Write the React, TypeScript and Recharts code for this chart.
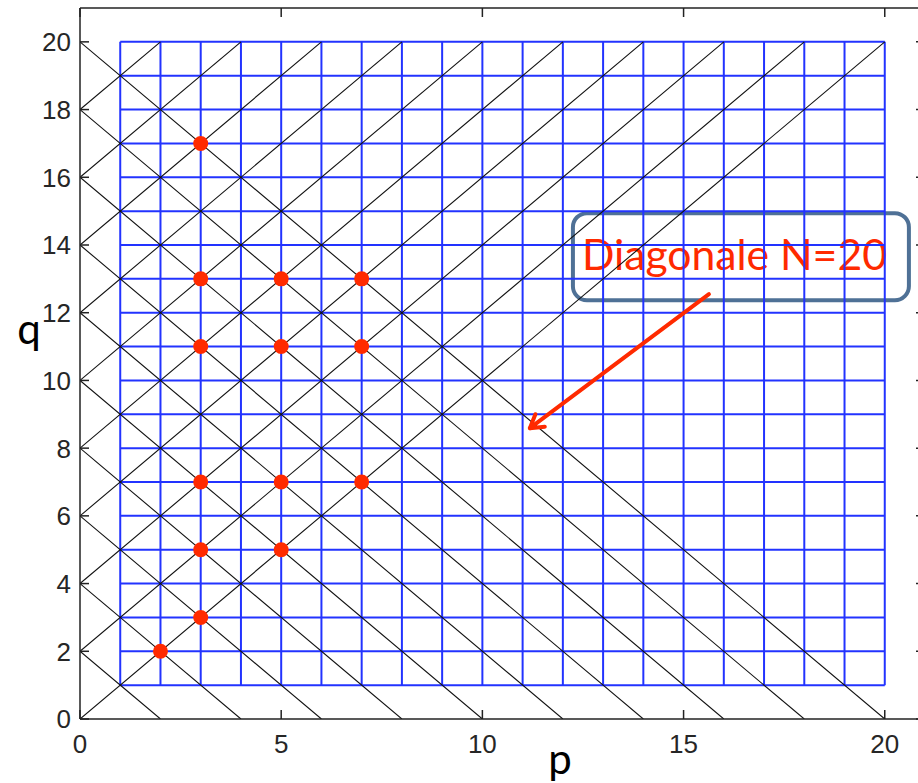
import { ComposedChart, Line, Scatter, XAxis, YAxis, ReferenceArea, ReferenceLine } from "recharts"

// blue lattice, diagonals p+q=N and q-p=k, prime pairs (p, q)
const gridSteps = [1, 2, 3, 4, 5, 6, 7, 8, 9, 10, 11, 12, 13, 14, 15, 16, 17, 18, 19, 20]
const sumDiagonals = [2, 4, 6, 8, 10, 12, 14, 16, 18, 20]
const diffDiagonals = [0, 2, 4, 6, 8, 10, 12, 14, 16, 18]
const pairP = [2, 3, 3, 5, 3, 5, 7, 3, 5, 7, 3, 5, 7, 3]
const pairQ = [2, 3, 5, 5, 7, 7, 7, 11, 11, 11, 13, 13, 13, 17]
const xTicks = [0, 5, 10, 15, 20]
const yTicks = [0, 2, 4, 6, 8, 10, 12, 14, 16, 18, 20]
const axisMax = 21

const gMin = gridSteps[0]
const gMax = gridSteps[gridSteps.length - 1]

const blueLines = [
  ...gridSteps.map((v) => [{ p: v, q: gMin }, { p: v, q: gMax }]),
  ...gridSteps.map((v) => [{ p: gMin, q: v }, { p: gMax, q: v }]),
]
const blackLines = [
  ...sumDiagonals.map((n) => [{ p: 0, q: n }, { p: n, q: 0 }]),
  ...diffDiagonals.map((k) => [{ p: 0, q: k }, { p: gMax - k, q: gMax }]),
]
const pairs = pairP.map((p, i) => ({ p, q: pairQ[i] }))

const AXIS = "#222"
const TICK_FONT = { fontFamily: "'Liberation Sans', Arial, sans-serif", fontSize: 26, fill: "#262626" }
const LABEL_FONT = { fontFamily: "Lato, 'Open Sans', sans-serif", fontSize: 42, fill: "#000" }

const LeftTick = ({ x, y, payload }: any) => (
  <g>
    <line x1={x} x2={x + 9} y1={y} y2={y} stroke={AXIS} strokeWidth={1.5} />
    <text x={x - 9} y={y} dy="0.36em" textAnchor="end" {...TICK_FONT}>{payload.value}</text>
  </g>
)
const RightTick = ({ x, y }: any) => <line x1={x} x2={x - 9} y1={y} y2={y} stroke={AXIS} strokeWidth={1.5} />
const BottomTick = ({ x, y, payload }: any) => (
  <g>
    <line x1={x} x2={x} y1={y} y2={y - 9} stroke={AXIS} strokeWidth={1.5} />
    <text x={x} y={y + 34} textAnchor="middle" {...TICK_FONT}>{payload.value}</text>
  </g>
)
const TopTick = ({ x, y }: any) => <line x1={x} x2={x} y1={y} y2={y + 9} stroke={AXIS} strokeWidth={1.5} />

const NoteBox = ({ x, y, width, height }: any) => (
  <g>
    <rect x={x} y={y} width={width} height={height} rx={14} fill="#fff" stroke="#4f7196" strokeWidth={4} />
    <text x={x + 9} y={y + 57} textLength={305} lengthAdjust="spacingAndGlyphs"
      fontFamily="Lato, 'Open Sans', sans-serif" fontSize={43} fill="#ff2a00">Diagonale N=20</text>
  </g>
)

const Arrow = ({ x1, y1, x2, y2 }: any) => {
  const a = Math.atan2(y2 - y1, x2 - x1)
  const len = 15
  const w1 = [x2 - len * Math.cos(a - 0.55), y2 - len * Math.sin(a - 0.55)]
  const w2 = [x2 - len * Math.cos(a + 0.55), y2 - len * Math.sin(a + 0.55)]
  return (
    <g stroke="#ff2a00" strokeWidth={4} strokeLinecap="round" fill="none">
      <line x1={x1} y1={y1} x2={x2} y2={y2} />
      <polyline points={`${w1[0]},${w1[1]} ${x2},${y2} ${w2[0]},${w2[1]}`} strokeLinejoin="round" />
    </g>
  )
}

export default function App() {
  return (
    <div style={{ position: "absolute", left: 0, top: 0, width: 918, height: 783, overflow: "hidden", background: "#fff" }}>
      <ComposedChart width={960} height={783} margin={{ top: 7, right: 34, bottom: 0, left: 0 }}>
        <XAxis dataKey="p" type="number" domain={[0, axisMax]} allowDataOverflow ticks={xTicks} interval={0}
          height={64} tickSize={0} tickMargin={0} tickLine={false} tick={<BottomTick />}
          axisLine={{ stroke: AXIS, strokeWidth: 1.5 }}
          label={{ content: ({ viewBox }: any) => <text x={viewBox.x + 480} y={viewBox.y + 55} textAnchor="middle" {...LABEL_FONT}>p</text> }} />
        <XAxis xAxisId="top" dataKey="p" orientation="top" type="number" domain={[0, axisMax]} allowDataOverflow ticks={xTicks} interval={0}
          height={1} tickSize={0} tickMargin={0} tickLine={false} tick={<TopTick />}
          axisLine={{ stroke: AXIS, strokeWidth: 1.5 }} />
        <YAxis dataKey="q" type="number" domain={[0, axisMax]} allowDataOverflow ticks={yTicks} interval={0}
          width={80} tickSize={0} tickMargin={0} tickLine={false} tick={<LeftTick />}
          axisLine={{ stroke: AXIS, strokeWidth: 1.5 }}
          label={{ content: ({ viewBox }: any) => <text x={viewBox.x + 29} y={viewBox.y + 336} textAnchor="middle" {...LABEL_FONT}>q</text> }} />
        <YAxis yAxisId="right" dataKey="q" orientation="right" type="number" domain={[0, axisMax]} allowDataOverflow ticks={yTicks} interval={0}
          width={1} tickSize={0} tickMargin={0} tickLine={false} tick={<RightTick />}
          axisLine={{ stroke: AXIS, strokeWidth: 1.5 }} />

        {blueLines.map((d, i) => (
          <Line key={`b${i}`} data={d} dataKey="q" type="linear" stroke="#2233ff" strokeWidth={2}
            dot={false} activeDot={false} isAnimationActive={false} />
        ))}
        {blackLines.map((d, i) => (
          <Line key={`k${i}`} data={d} dataKey="q" type="linear" stroke="#111" strokeWidth={1.1}
            dot={false} activeDot={false} isAnimationActive={false} />
        ))}
        <Scatter data={pairs} dataKey="q" xAxisId="top" yAxisId="right" isAnimationActive={false}
          shape={(s: any) => <circle cx={s.cx} cy={s.cy} r={7.5} fill="#ff2a00" />} />

        <ReferenceArea x1={12.25} x2={20.6} y1={12.37} y2={14.94} ifOverflow="visible" shape={<NoteBox />} />
        <ReferenceLine segment={[{ x: 15.63, y: 12.55 }, { x: 11.18, y: 8.59 }]} ifOverflow="visible" shape={<Arrow />} />
      </ComposedChart>
    </div>
  )
}
